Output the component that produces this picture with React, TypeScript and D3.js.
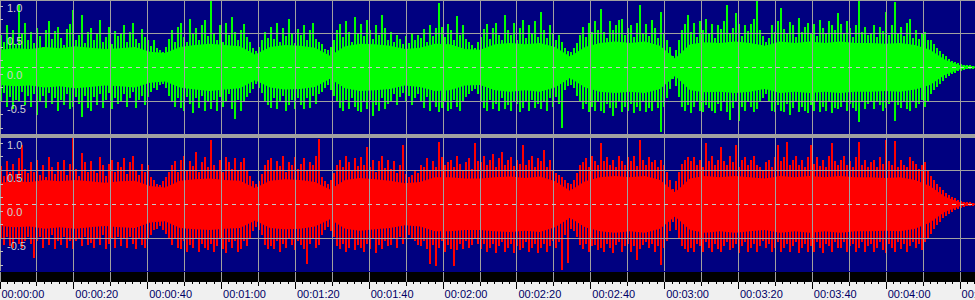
import React from 'react';
import * as d3 from 'd3';

const W = 975;
const H = 300;
const DURATION = 264.05; // seconds across the full width
const COL_DT = 0.8125; // seconds per peak column
const BODY_DT = 4.0625; // seconds per body-envelope point

// Tick data
const timeTickSeconds = [0, 20, 40, 60, 80, 100, 120, 140, 160, 180, 200, 220, 240, 260];
const timeTickLabels = ['00:00:00', '00:00:20', '00:00:40', '00:01:00', '00:01:20', '00:01:40', '00:02:00', '00:02:20', '00:02:40', '00:03:00', '00:03:20', '00:03:40', '00:04:00', '00:04:20'];
const gridSeconds = [0, 10, 20, 30, 40, 50, 60, 70, 80, 90, 100, 110, 120, 130, 140, 150, 160, 170, 180, 190, 200, 210, 220, 230, 240, 250, 260];
const ampTickValues = [1, 0.5, 0, -0.5];
const ampTickLabels = ['1.0', '0.5', '0.0', '-0.5'];
const ampGridValues = [1, 0.5, -0.5, -1];
const ampMinorTicks = [0.9, 0.7, 0.3, 0.1, -0.1, -0.3, -0.7, -0.9];

// Left channel (green) — per-column peak amplitudes (hundredths)
const greenPeakHi = [
  48,38,62,45,55,35,92,50,66,40, 52,36,58,47,30,55,68,42,53,60,
  44,33,56,64,85,40,48,77,36,52, 58,41,50,70,38,45,60,35,53,46,
  50,62,38,52,66,42,36,57,45,40, 32,40,28,25,22,30,42,55,38,60,
  66,45,38,72,50,58,40,62,70,46, 98,50,40,63,37,66,48,75,52,41,
  55,64,45,38,28,24,30,40,52,44, 60,42,66,38,58,47,72,50,36,57,
  48,62,40,55,66,42,38,34,27,25, 30,40,55,64,45,68,52,38,74,50,
  64,46,70,55,42,62,48,78,58,40, 52,38,48,42,35,46,36,50,40,48,
  44,56,38,62,47,58,95,60,45,64, 55,40,76,48,62,42,38,33,28,38,
  45,56,64,42,58,66,48,40,77,55, 48,65,40,58,70,44,62,50,68,45,
  82,55,44,63,50,40,48,38,28,24, 22,28,36,48,60,45,66,52,68,55,
  86,52,44,68,55,63,70,72,48,58, 62,45,66,92,50,64,46,70,58,44,
  82,50,40,30,16,26,40,55,64,77, 52,66,45,68,55,72,50,64,44,62,
  56,68,92,50,58,80,64,46,62,54, 64,72,98,55,46,38,44,63,52,68,
  88,56,50,67,62,45,73,52,60,66, 50,64,46,70,58,50,68,62,55,80,
  64,50,68,58,45,62,98,52,60,48, 50,62,45,60,54,82,48,62,97,50,
  60,46,66,72,44,55,42,50,52,40, 40,34,29,24,19,16,13,10,8,6,
  5,4,3,3,2,
];
const greenPeakLo = [
  50,38,58,44,62,48,52,36,56,42, 58,40,70,50,42,60,38,55,46,64,
  48,56,40,62,59,44,55,74,42,60, 64,44,56,40,60,48,38,62,45,55,
  50,40,58,46,36,60,48,42,56,44, 36,30,34,26,24,30,42,50,58,46,
  60,64,44,55,67,46,60,42,64,50, 62,48,64,44,58,50,40,62,76,48,
  64,52,44,38,32,25,30,38,50,56, 60,46,62,50,42,64,56,48,62,45,
  56,62,46,60,42,55,40,36,30,26, 34,42,50,60,64,48,62,45,58,65,
  66,52,62,48,72,56,64,46,62,54, 50,40,56,44,38,50,42,56,46,40,
  50,60,44,64,52,58,66,60,50,64, 62,48,58,64,50,44,40,35,32,40,
  50,60,64,48,62,55,64,46,62,56, 64,52,55,66,60,50,64,48,60,55,
  62,52,64,46,58,44,55,90,34,28, 26,30,42,50,62,54,66,58,64,52,
  64,68,55,60,72,60,52,66,58,64, 55,67,58,64,50,66,60,64,52,60,
  95,58,46,32,18,28,44,58,64,56, 67,58,52,64,66,56,60,64,68,55,
  64,52,66,78,60,50,80,58,64,52, 58,66,62,52,46,40,52,64,66,56,
  64,66,55,70,60,52,66,58,64,68, 56,64,52,66,58,64,52,68,60,62,
  58,52,64,55,60,64,81,52,62,55, 52,62,50,56,64,60,55,50,80,56,
  60,50,62,64,52,60,55,48,58,50, 40,34,29,24,20,16,13,10,8,6,
  5,4,3,3,2,
];
// Right channel (red)
const redPeakHi = [
  56,42,64,48,60,45,68,88,52,46, 62,48,66,44,58,40,70,55,45,62,
  50,66,44,60,98,52,42,76,62,48, 64,50,46,70,58,42,60,66,48,62,
  55,68,45,62,72,50,44,60,48,58, 40,36,30,28,34,40,48,58,64,48,
  66,72,50,64,56,78,48,62,70,55, 95,58,50,66,48,70,62,52,68,50,
  62,68,50,42,34,30,34,45,58,66, 68,50,64,56,72,48,62,58,70,52,
  60,68,50,62,58,72,97,40,34,30, 36,46,58,66,55,72,62,50,68,56,
  70,58,85,55,66,48,64,72,54,66, 52,64,46,58,88,45,40,44,50,46,
  58,55,68,50,64,55,92,70,58,62, 66,55,72,60,50,62,68,52,90,64,
  62,72,58,66,74,55,68,78,58,66, 70,56,66,60,88,58,66,72,55,68,
  64,80,55,66,50,46,44,40,36,32, 30,36,46,58,62,68,55,72,64,58,
  90,64,70,58,66,55,72,64,58,70, 64,72,56,95,66,58,70,62,66,55,
  66,58,48,36,22,34,48,60,66,70, 64,70,58,66,55,90,64,72,58,66,
  85,64,58,72,62,88,55,66,70,58, 66,72,58,55,50,62,66,55,70,88,
  64,70,92,58,66,72,58,66,55,70, 88,60,70,56,66,55,72,90,64,58,
  66,72,58,64,55,70,92,58,66,55, 62,66,55,70,60,95,64,58,93,55,
  66,58,55,70,64,60,52,58,62,50, 42,36,30,26,21,17,14,11,9,7,
  5,4,3,3,2,
];
const redPeakLo = [
  52,60,48,62,65,50,58,65,54,48, 58,80,55,48,64,52,60,46,66,55,
  60,48,64,55,66,54,50,62,48,60, 57,64,50,60,46,66,58,50,64,48,
  62,52,64,48,58,66,50,60,64,52, 45,38,36,32,38,44,52,60,50,64,
  66,55,70,60,64,52,70,58,64,68, 58,70,62,52,66,72,56,64,55,70,
  66,55,62,50,40,34,38,46,60,66, 62,66,55,70,58,64,52,60,68,55,
  60,66,88,58,52,64,60,46,38,34, 40,48,62,66,58,70,64,52,68,60,
  64,70,58,66,52,72,60,66,55,62, 60,52,64,48,58,52,46,50,55,60,
  62,55,66,88,60,92,64,55,70,60, 66,91,68,58,66,55,64,60,52,58,
  66,58,70,64,58,72,62,56,70,64, 58,72,62,68,64,56,70,64,58,72,
  64,58,70,62,55,64,56,97,45,87, 36,40,48,60,66,58,70,62,60,68,
  64,70,58,64,72,60,56,70,62,58, 70,62,83,66,60,56,64,58,70,62,
  90,64,55,40,26,38,50,62,66,70, 64,70,58,62,70,56,64,70,58,66,
  70,62,56,68,64,58,72,62,56,70, 64,58,70,62,55,64,58,70,64,56,
  70,64,58,70,62,56,72,64,58,70, 62,70,56,64,72,58,62,70,56,64,
  64,56,70,62,58,70,64,56,70,62, 58,70,65,56,68,72,58,64,70,56,
  66,58,70,62,56,64,58,67,56,52, 44,37,31,26,21,17,14,11,9,7,
  5,4,3,3,2,
];

// Dense body envelopes (hundredths), one point every BODY_DT seconds
const greenBody = [
  26,28,27,30,28,31,29,27,28,30, 23,21,30,33,35,33,31,19,30,33,
  32,29,17,31,35,34,32,27,29,35, 34,27,26,34,36,34,36,30,16,30,
  36,38,36,38,32,13,34,37,36,38, 36,32,38,36,38,36,38,36,36,35,
  36,33,26,11,3,1,
];
const redBody = [
  32,34,33,36,34,36,34,32,34,35, 27,25,35,37,38,36,35,24,35,37,
  36,33,22,36,39,37,35,31,33,40, 40,38,38,40,41,39,41,34,20,34,
  40,42,40,42,36,18,38,42,40,42, 40,38,42,40,42,40,42,40,40,39,
  40,36,27,11,3,1,
];

const NAVY = '#000080';
const GRID = '#a0a0a0';
const FONT = "'Liberation Sans', Arial, sans-serif";

const xs = d3.scaleLinear().domain([0, DURATION]).range([0, W]);
const px = (t: number) => Math.floor(xs(t)) + 0.5;

const panels = [
  { key: 'L', hi: greenPeakHi, lo: greenPeakLo, body: greenBody, color: '#00ff00', cy: 67.3, clipTop: 0, clipBottom: 134 },
  { key: 'R', hi: redPeakHi, lo: redPeakLo, body: redBody, color: '#ff0000', cy: 204.3, clipTop: 138, clipBottom: 271 },
];

function Panel({ p }: { p: typeof panels[number] }) {
  const ys = d3.scaleLinear().domain([-1, 1]).range([p.cy + 67.6, p.cy - 67.6]);
  const area = d3
    .area<number>()
    .x((_, i) => xs(i * BODY_DT))
    .y0((d) => ys(-d / 100))
    .y1((d) => ys(d / 100))
    .curve(d3.curveLinear);
  const gy = (v: number) => Math.floor(ys(v)) + 0.5;
  return (
    <g>
      <defs>
        <clipPath id={`clip-${p.key}`}>
          <rect x={0} y={p.clipTop} width={W} height={p.clipBottom - p.clipTop} />
        </clipPath>
      </defs>
      <g clipPath={`url(#clip-${p.key})`}>
        <path d={area(p.body) || ''} fill={p.color} />
        {p.hi.map((h, i) => {
          const y1 = Math.round(ys(h / 100));
          const y2 = Math.round(ys(-p.lo[i] / 100));
          return (
            <rect
              key={i}
              x={Math.floor(xs(i * COL_DT))}
              y={y1}
              width={2}
              height={Math.max(1, y2 - y1)}
              fill={p.color}
              shapeRendering="crispEdges"
            />
          );
        })}
        {gridSeconds.map((s) => (
          <line key={`v${s}`} x1={px(s)} x2={px(s)} y1={p.clipTop} y2={p.clipBottom} stroke={GRID} strokeWidth={1} shapeRendering="crispEdges" />
        ))}
        {ampGridValues.map((v) => (
          <line key={`h${v}`} x1={0} x2={W} y1={Math.max(0.5, gy(v))} y2={Math.max(0.5, gy(v))} stroke={GRID} strokeWidth={1} shapeRendering="crispEdges" />
        ))}
        <line x1={0} x2={W} y1={gy(0)} y2={gy(0)} stroke="#c8c8c8" strokeWidth={1} strokeDasharray="4,4" shapeRendering="crispEdges" />
        {ampMinorTicks.map((v) => (
          <line key={`m${v}`} x1={0} x2={3} y1={gy(v)} y2={gy(v)} stroke="#c0c0c0" strokeWidth={1} shapeRendering="crispEdges" />
        ))}
        {ampTickValues.map((v, i) => (
          <text key={`t${v}`} x={7} y={ys(v) + 11.8} fill="#d0d0d0" fontSize={11} fontFamily={FONT}>
            {ampTickLabels[i]}
          </text>
        ))}
      </g>
    </g>
  );
}

export default function App() {
  const minorTicks = d3.range(0, 265, 2);
  return (
    <svg width={W} height={H} style={{ position: 'absolute', left: 0, top: 0, display: 'block' }}>
      <rect x={0} y={0} width={W} height={272} fill={NAVY} />
      {panels.map((p) => (
        <Panel key={p.key} p={p} />
      ))}
      <rect x={0} y={134} width={W} height={4} fill={GRID} />
      <rect x={0} y={272} width={W} height={10} fill="#000000" />
      {gridSeconds.map((s) => (
        <line key={`bv${s}`} x1={px(s)} x2={px(s)} y1={272} y2={282} stroke={GRID} strokeWidth={1} shapeRendering="crispEdges" />
      ))}
      <rect x={0} y={282} width={W} height={18} fill="#f0f0f0" />
      {minorTicks.map((s) => (
        <line key={`mt${s}`} x1={px(s)} x2={px(s)} y1={282} y2={284} stroke="#000000" strokeWidth={1} shapeRendering="crispEdges" />
      ))}
      {gridSeconds.map((s) => (
        <line key={`gt${s}`} x1={px(s)} x2={px(s)} y1={282} y2={s % 20 === 0 ? 289 : 286} stroke="#000000" strokeWidth={1} shapeRendering="crispEdges" />
      ))}
      {timeTickSeconds.map((s, i) => (
        <text key={`tl${s}`} x={xs(s) + 1.5} y={297.5} fill="#000066" fontSize={11} fontFamily={FONT}>
          {timeTickLabels[i]}
        </text>
      ))}
    </svg>
  );
}
